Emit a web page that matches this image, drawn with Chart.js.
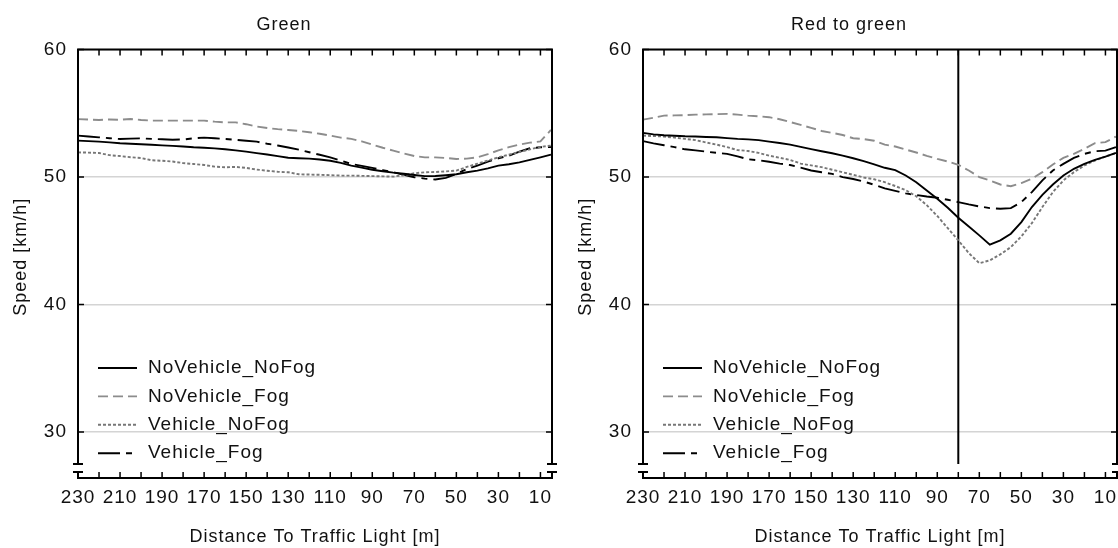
<!DOCTYPE html>
<html>
<head>
<meta charset="utf-8">
<script src="https://cdn.jsdelivr.net/npm/chart.js@4.4.1/dist/chart.umd.min.js"></script>
<style>
  html, body { margin: 0; padding: 0; background: #fff; overflow: hidden; }
  #wrap { position: relative; width: 1118px; height: 548px; overflow: hidden; }
  .pane { position: absolute; top: 0; width: 568px; height: 548px; }
</style>
</head>
<body>
<div id="wrap">
  <div class="pane" style="left:0"><canvas id="green" width="568" height="548"></canvas></div>
  <div class="pane" style="left:565px"><canvas id="redToGreen" width="568" height="548"></canvas></div>
</div>
<script>
// distance to the traffic light [m], one reading every 5 m
const distances = [230, 225, 220, 215, 210, 205, 200, 195, 190, 185, 180, 175, 170, 165, 160, 155,
  150, 145, 140, 135, 130, 125, 120, 115, 110, 105, 100, 95, 90, 85, 80, 75, 70, 65, 60, 55,
  50, 45, 40, 35, 30, 25, 20, 15, 10, 5];

const seriesNames = ["NoVehicle_NoFog", "NoVehicle_Fog", "Vehicle_NoFog", "Vehicle_Fog"];

// "Green" condition, speed in km/h
const greenNoVehicleNoFog = [52.86, 52.82, 52.78, 52.72, 52.66, 52.62, 52.58, 52.54, 52.49, 52.45,
  52.40, 52.34, 52.30, 52.25, 52.18, 52.10, 52.00, 51.88, 51.77, 51.65, 51.52, 51.48, 51.45, 51.38,
  51.28, 51.12, 50.90, 50.74, 50.58, 50.46, 50.35, 50.26, 50.17, 50.08, 50.09, 50.15, 50.22, 50.38,
  50.51, 50.69, 50.90, 51.01, 51.16, 51.35, 51.55, 51.76];
const greenNoVehicleFog = [54.55, 54.52, 54.48, 54.52, 54.50, 54.56, 54.48, 54.43, 54.43, 54.43,
  54.43, 54.43, 54.43, 54.35, 54.29, 54.29, 54.15, 53.97, 53.85, 53.76, 53.70, 53.62, 53.52, 53.40,
  53.26, 53.10, 53.00, 52.80, 52.55, 52.30, 52.08, 51.85, 51.65, 51.55, 51.55, 51.50, 51.42, 51.45,
  51.55, 51.80, 52.10, 52.35, 52.55, 52.70, 52.80, 53.70];
const greenVehicleNoFog = [51.94, 51.92, 51.89, 51.72, 51.65, 51.56, 51.50, 51.32, 51.28, 51.22,
  51.10, 51.03, 50.95, 50.82, 50.77, 50.80, 50.72, 50.59, 50.50, 50.42, 50.38, 50.22, 50.20, 50.18,
  50.15, 50.12, 50.12, 50.10, 50.08, 50.06, 50.04, 50.15, 50.30, 50.38, 50.40, 50.45, 50.51, 50.80,
  51.05, 51.30, 51.55, 51.76, 51.97, 52.18, 52.37, 52.47];
const greenVehicleFog = [53.25, 53.18, 53.12, 53.05, 52.99, 53.02, 53.04, 53.00, 52.97, 52.93,
  52.95, 53.04, 53.10, 53.05, 52.99, 52.93, 52.85, 52.78, 52.62, 52.48, 52.32, 52.15, 51.95, 51.75,
  51.55, 51.30, 51.03, 50.88, 50.72, 50.55, 50.38, 50.18, 49.99, 49.88, 49.81, 49.94, 50.25, 50.64,
  50.90, 51.21, 51.48, 51.68, 52.00, 52.26, 52.34, 52.36];

// "Red to green" condition, speed in km/h
const redNoVehicleNoFog = [53.47, 53.35, 53.28, 53.24, 53.20, 53.18, 53.15, 53.13, 53.06, 53.00,
  52.96, 52.90, 52.78, 52.67, 52.55, 52.37, 52.20, 52.03, 51.87, 51.68, 51.48, 51.25, 51.00, 50.73,
  50.55, 50.13, 49.60, 48.95, 48.30, 47.60, 46.81, 46.13, 45.43, 44.70, 45.04, 45.56, 46.47, 47.65,
  48.61, 49.42, 50.13, 50.65, 51.04, 51.35, 51.61, 51.90];
const redNoVehicleFog = [54.51, 54.65, 54.82, 54.84, 54.86, 54.90, 54.92, 54.94, 54.96, 54.90,
  54.82, 54.77, 54.70, 54.54, 54.32, 54.10, 53.86, 53.62, 53.47, 53.30, 53.05, 52.98, 52.85, 52.55,
  52.40, 52.16, 51.93, 51.67, 51.43, 51.22, 50.96, 50.52, 50.00, 49.74, 49.42, 49.29, 49.53, 49.87,
  50.39, 50.99, 51.51, 51.82, 52.22, 52.66, 52.74, 53.18];
const redVehicleNoFog = [53.26, 53.22, 53.18, 53.10, 53.00, 52.90, 52.72, 52.55, 52.35, 52.12,
  52.05, 51.90, 51.68, 51.52, 51.35, 51.06, 50.92, 50.78, 50.58, 50.38, 50.18, 49.97, 49.83, 49.60,
  49.30, 48.98, 48.50, 47.80, 46.95, 46.00, 45.04, 44.04, 43.25, 43.47, 43.94, 44.51, 45.35, 46.39,
  47.65, 48.82, 49.74, 50.39, 50.91, 51.30, 51.61, 51.88];
const redVehicleFog = [52.82, 52.65, 52.50, 52.35, 52.18, 52.10, 52.00, 51.90, 51.82, 51.62,
  51.40, 51.32, 51.20, 51.06, 50.95, 50.75, 50.52, 50.38, 50.25, 50.00, 49.85, 49.65, 49.40, 49.12,
  48.92, 48.72, 48.60, 48.48, 48.38, 48.22, 48.04, 47.86, 47.70, 47.57, 47.52, 47.57, 48.04, 48.82,
  49.74, 50.52, 51.04, 51.51, 51.82, 52.03, 52.08, 52.35];

// light switches at 80 m in the red-to-green condition
const signalDistance = 80;

const xTickLabels = [230, 210, 190, 170, 150, 130, 110, 90, 70, 50, 30, 10];
const xMinorTicks = [230, 220, 210, 200, 190, 180, 170, 160, 150, 140, 130, 120, 110, 100, 90, 80,
  70, 60, 50, 40, 30, 20, 10];
const yTickLabels = [30, 40, 50, 60];
const X_MIN = 4.5, X_MAX = 230;
const Y_MIN = 27.5, Y_MAX = 60;

const FONT = "'Liberation Sans', Arial, sans-serif";
const styles = [
  { color: "#000", dash: [] },
  { color: "#8c8c8c", dash: [10, 5] },
  { color: "#777", dash: [3, 2] },
  { color: "#000", dash: [22, 6, 6, 6] }
];

function toPoints(values) {
  return values.map((v, i) => ({ x: distances[i], y: v }));
}

// the original text is a bit wider than plain Arial
const spacingPlugin = {
  id: "spacing",
  beforeDraw(chart) { chart.ctx.letterSpacing = "1px"; }
};

// box with broken y axis, inward ticks on all sides (Statistica look)
const framePlugin = {
  id: "frame",
  afterDatasetsDraw(chart) {
    const { ctx, chartArea: a, scales: { x, y } } = chart;
    const capGap = 8;
    const axisY = a.bottom + 14;
    ctx.save();
    ctx.strokeStyle = "#000";
    ctx.lineWidth = 2;
    ctx.beginPath();
    ctx.moveTo(a.left, a.bottom);
    ctx.lineTo(a.left, a.top);
    ctx.lineTo(a.right, a.top);
    ctx.lineTo(a.right, a.bottom);
    for (const sx of [a.left, a.right]) {
      ctx.moveTo(sx - 5, a.bottom); ctx.lineTo(sx + 5, a.bottom);
      ctx.moveTo(sx - 5, a.bottom + capGap); ctx.lineTo(sx + 5, a.bottom + capGap);
      ctx.moveTo(sx, a.bottom + capGap); ctx.lineTo(sx, axisY);
    }
    ctx.moveTo(a.left - 1, axisY);
    ctx.lineTo(a.right + 1, axisY);
    ctx.stroke();

    ctx.lineWidth = 1.5;
    ctx.beginPath();
    for (const d of xMinorTicks) {
      const px = x.getPixelForValue(d);
      ctx.moveTo(px, a.top); ctx.lineTo(px, a.top + 6);
      ctx.moveTo(px, axisY); ctx.lineTo(px, axisY - 6);
    }
    for (const v of yTickLabels) {
      const py = y.getPixelForValue(v);
      ctx.moveTo(a.left, py); ctx.lineTo(a.left + 6, py);
      ctx.moveTo(a.right, py); ctx.lineTo(a.right - 6, py);
    }
    ctx.stroke();
    ctx.restore();
  }
};

// legend in the lower left corner of the plot
const legendPlugin = {
  id: "cornerLegend",
  afterDatasetsDraw(chart) {
    const { ctx, chartArea: a } = chart;
    const rowTop = 368, rowGap = 28.4;
    ctx.save();
    ctx.font = "19px " + FONT;
    ctx.textBaseline = "middle";
    ctx.fillStyle = "#111";
    seriesNames.forEach((name, i) => {
      const ds = chart.data.datasets[i];
      const ry = rowTop + i * rowGap;
      ctx.strokeStyle = ds.borderColor;
      ctx.lineWidth = ds.borderWidth;
      ctx.setLineDash(ds.borderDash);
      ctx.beginPath();
      ctx.moveTo(a.left + 20, ry);
      ctx.lineTo(a.left + 59, ry);
      ctx.stroke();
      ctx.setLineDash([]);
      ctx.fillText(name, a.left + 70, ry);
    });
    ctx.restore();
  }
};

function makeChart(canvasId, title, seriesList, withSignal) {
  const datasets = seriesList.map((values, i) => ({
    label: seriesNames[i],
    data: toPoints(values),
    borderColor: styles[i].color,
    borderDash: styles[i].dash,
    borderWidth: 1.9,
    pointRadius: 0,
    tension: 0,
    fill: false
  }));
  if (withSignal) {
    datasets.push({
      label: "signal",
      data: [{ x: signalDistance, y: Y_MAX }, { x: signalDistance, y: Y_MIN }],
      borderColor: "#000",
      borderWidth: 2,
      pointRadius: 0,
      fill: false
    });
  }

  return new Chart(document.getElementById(canvasId), {
    type: "line",
    data: { datasets },
    plugins: [spacingPlugin, framePlugin, legendPlugin],
    options: {
      responsive: false,
      animation: false,
      devicePixelRatio: 1,
      layout: { padding: 0 },
      plugins: {
        legend: { display: false },
        tooltip: { enabled: false },
        title: {
          display: true,
          text: title,
          color: "#111",
          font: { family: FONT, size: 18, weight: "normal" },
          padding: { top: 14, bottom: 14 }
        }
      },
      scales: {
        x: {
          type: "linear",
          reverse: true,
          min: X_MIN,
          max: X_MAX,
          afterBuildTicks: s => { s.ticks = xTickLabels.map(v => ({ value: v })); },
          afterFit: s => { s.height = 84; s.paddingLeft = 0; s.paddingRight = 16; },
          grid: { display: false, drawTicks: false },
          border: { display: false },
          ticks: { color: "#111", padding: 22, maxRotation: 0, font: { family: FONT, size: 19 } },
          title: {
            display: true,
            text: "Distance To Traffic Light [m]",
            color: "#111",
            font: { family: FONT, size: 18 },
            padding: { top: 0, bottom: 0 }
          }
        },
        y: {
          min: Y_MIN,
          max: Y_MAX,
          afterBuildTicks: s => { s.ticks = yTickLabels.map(v => ({ value: v })); },
          afterFit: s => { s.width = 78; },
          grid: { color: "#d4d4d4", lineWidth: 1.5, drawTicks: false },
          border: { display: false },
          ticks: { color: "#111", padding: 11, font: { family: FONT, size: 19 } },
          title: {
            display: true,
            text: "Speed [km/h]",
            color: "#111",
            font: { family: FONT, size: 18 },
            padding: { top: 10, bottom: 0 }
          }
        }
      }
    }
  });
}

makeChart("green", "Green",
  [greenNoVehicleNoFog, greenNoVehicleFog, greenVehicleNoFog, greenVehicleFog], false);
makeChart("redToGreen", "Red to green",
  [redNoVehicleNoFog, redNoVehicleFog, redVehicleNoFog, redVehicleFog], true);
</script>
</body>
</html>
